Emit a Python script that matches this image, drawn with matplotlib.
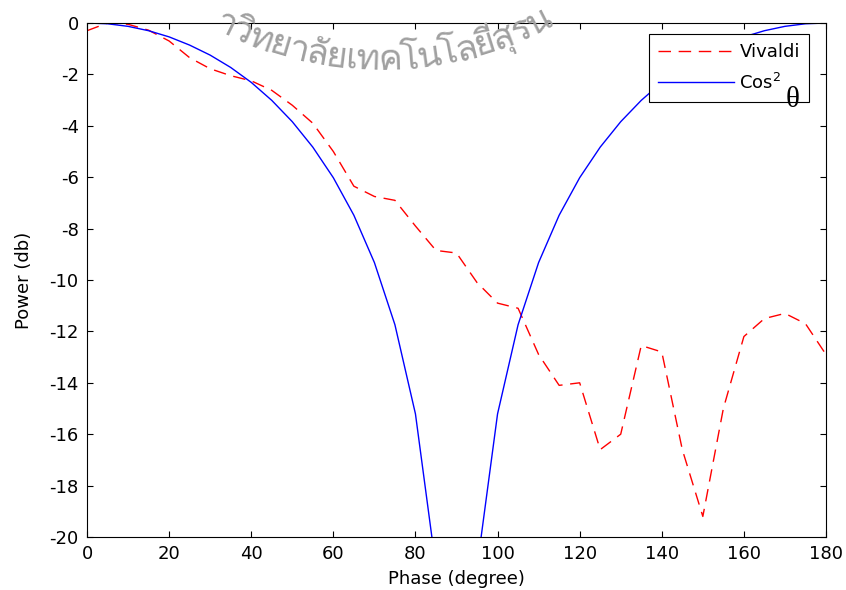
import numpy as np
import matplotlib
matplotlib.use("Agg")
import matplotlib.pyplot as plt
from matplotlib import font_manager
from matplotlib.ft2font import FT2Font

# ---- data ----
phase_vivaldi = [0, 5, 10, 15, 20, 25, 30, 35, 40, 45, 50, 55, 60, 65, 70, 75, 80, 85, 90,
                 95, 100, 105, 110, 115, 120, 125, 130, 135, 140, 145, 150, 155, 160, 165,
                 170, 175, 180]
power_vivaldi = [-0.3, 0.0, -0.05, -0.28, -0.7, -1.35, -1.78, -2.05, -2.25, -2.62, -3.2,
                 -3.9, -5.0, -6.35, -6.75, -6.9, -7.9, -8.85, -8.95, -10.1, -10.9, -11.1,
                 -12.9, -14.1, -14.0, -16.6, -16.0, -12.55, -12.8, -16.6, -19.2, -15.0,
                 -12.2, -11.5, -11.3, -11.7, -12.9]

phase_cos = [0, 5, 10, 15, 20, 25, 30, 35, 40, 45, 50, 55, 60, 65, 70, 75, 80, 85, 90,
             95, 100, 105, 110, 115, 120, 125, 130, 135, 140, 145, 150, 155, 160, 165,
             170, 175, 180]
power_cos = [0.0, -0.03, -0.13, -0.30, -0.54, -0.86, -1.25, -1.73, -2.31, -3.01, -3.84,
             -4.83, -6.02, -7.48, -9.32, -11.74, -15.21, -21.19, np.nan, -21.19, -15.21,
             -11.74, -9.32, -7.48, -6.02, -4.83, -3.84, -3.01, -2.31, -1.73, -1.25, -0.86,
             -0.54, -0.30, -0.13, -0.03, 0.0]

x_ticks = [0, 20, 40, 60, 80, 100, 120, 140, 160, 180]
y_ticks = [0, -2, -4, -6, -8, -10, -12, -14, -16, -18, -20]

watermark = "มหาวิทยาลัยเทคโนโลยีสุรนารี"

W, H = 846, 590

plt.rcParams['font.family'] = ['DejaVu Sans']

fig = plt.figure(figsize=(W / 100, H / 100), dpi=100, facecolor='white')
ax = fig.add_axes([87 / W, 1 - 537 / H, (826 - 87) / W, (537 - 23) / H])

ax.plot(phase_vivaldi, power_vivaldi, color='red', lw=1.0, dashes=(9, 5.5), label='Vivaldi')
ax.plot(phase_cos, power_cos, color='blue', lw=1.0, label='Cos$^2$')

ax.set_xlim(0, 180)
ax.set_ylim(-20, 0)
ax.set_xticks(x_ticks)
ax.set_yticks(y_ticks)
ax.set_yticklabels([str(v) for v in y_ticks])
ax.tick_params(direction='in', top=True, right=True, length=4, width=0.8,
               labelsize=13, pad=6)
for s in ax.spines.values():
    s.set_linewidth(0.8)

ax.set_xlabel('Phase (degree)', fontsize=13, labelpad=5)
ax.set_ylabel('Power (db)', fontsize=13, labelpad=12)

leg = ax.legend(loc='upper right', bbox_to_anchor=(0.977, 0.979), borderaxespad=0,
                fontsize=13, fancybox=False, edgecolor='black', framealpha=1,
                handlelength=4.2, handletextpad=0.3, borderpad=0.5, labelspacing=0.65)
leg.get_frame().set_linewidth(0.8)

# the theta that MATLAB dropped below the legend label
fig.text(793 / W, 1 - 100 / H, 'θ', fontsize=21, family='Liberation Serif',
         ha='center', va='center', zorder=10)


# ---- curved watermark (part of the university seal that shows) ----
def thai_font():
    for f in font_manager.fontManager.ttflist:
        try:
            if ord('ท') in FT2Font(f.fname).get_charmap():
                return f.name
        except Exception:
            pass
    return None


def clusters(text):
    # join combining marks to their base letter
    marks = set('ัิีึืฺุู็่้๊๋์')
    out = []
    for ch in text:
        if out and ch in marks:
            out[-1] += ch
        else:
            out.append(ch)
    return out


fam = thai_font()
if fam is not None:
    renderer = fig.canvas.get_renderer()
    parts = clusters(watermark)
    widths = []
    for p in parts:
        t = fig.text(0, 0, p, fontsize=26, family=fam)
        widths.append(t.get_window_extent(renderer).width)
        t.remove()
    centers = np.cumsum(widths) - np.array(widths) / 2
    R, cx, cy = 360.0, 380.0, 70.0 - 360.0
    s_first = R * np.arcsin((258 - cx) / R)   # first ท
    s_last = R * np.arcsin((525 - cx) / R)    # ร
    k = (s_last - s_first) / (centers[18] - centers[4])
    arc = s_first + (centers - centers[4]) * k
    for i in range(2, 20):
        phi = arc[i] / R
        px = cx + R * np.sin(phi)
        py = cy + R * np.cos(phi)
        fig.text(px / W, 1 - py / H, parts[i], fontsize=26, family=fam, color='#a0a0a0',
                 rotation=np.degrees(phi), rotation_mode='anchor',
                 ha='center', va='baseline', zorder=5)

fig.savefig('out.png', dpi=100)
